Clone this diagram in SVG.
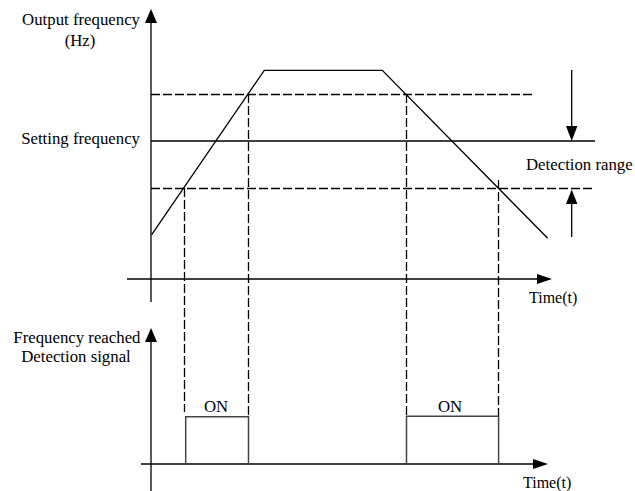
<svg xmlns="http://www.w3.org/2000/svg" width="635" height="491" viewBox="0 0 635 491">
<defs>
<style>
.ln{stroke:#000;stroke-width:1.3;fill:none}
.ds{stroke:#000;stroke-width:1.3;fill:none;stroke-dasharray:9 3}
.bx{stroke:#444;stroke-width:1.5;fill:none}
.ah{fill:#000}
text{font-family:"Liberation Serif","Times New Roman",serif;font-size:16.8px;fill:#000}
</style>
</defs>
<rect width="635" height="491" fill="#fff"/>
<g id="axes">
<line class="ln" x1="151" y1="20" x2="151" y2="302"/>
<polygon class="ah" points="151,9 145,23 157,23"/>
<line class="ln" x1="127" y1="279" x2="540" y2="279"/>
<polygon class="ah" points="552,279 537,274 537,284"/>
<line class="ln" x1="151" y1="338" x2="151" y2="491"/>
<polygon class="ah" points="151,328 145,342 157,342"/>
<line class="ln" x1="141" y1="464" x2="536" y2="464"/>
<polygon class="ah" points="548,464 533,459 533,469"/>
</g>
<g id="levels">
<line class="ds" x1="151" y1="94.5" x2="533" y2="94.5"/>
<line class="ln" x1="151" y1="141" x2="595" y2="141"/>
<line class="ds" x1="151" y1="188.5" x2="595" y2="188.5"/>
</g>
<g id="curve">
<polyline class="ln" points="151.7,234.7 264.3,70.3 382.3,70.3 547.7,238.3"/>
</g>
<g id="connectors">
<line class="ds" x1="184.5" y1="188" x2="184.5" y2="412"/>
<line class="ds" x1="248.5" y1="94" x2="248.5" y2="417"/>
<line class="ds" x1="406.5" y1="94" x2="406.5" y2="417"/>
<line class="ds" x1="498.5" y1="180" x2="498.5" y2="416"/>
</g>
<g id="detection-arrows">
<line class="ln" x1="571.7" y1="70" x2="571.7" y2="128"/>
<polygon class="ah" points="571.7,141 566,126 577.4,126"/>
<line class="ln" x1="571.7" y1="204" x2="571.7" y2="237"/>
<polygon class="ah" points="571.7,189.5 566,204 577.4,204"/>
</g>
<g id="on-pulses">
<polyline class="bx" points="185.7,464 185.7,416.7 248.5,416.7 248.5,464"/>
<polyline class="bx" points="406.5,464 406.5,416.3 498.6,416.3 498.6,464"/>
</g>
<g id="labels">
<text x="140" y="25" text-anchor="end">Output frequency</text>
<text x="80" y="46" text-anchor="middle">(Hz)</text>
<text x="140" y="144" text-anchor="end">Setting frequency</text>
<text x="526" y="170">Detection range</text>
<text x="529" y="303" style="font-size:16px">Time(t)</text>
<text x="140.5" y="343" text-anchor="end">Frequency reached</text>
<text x="76" y="362" text-anchor="middle">Detection signal</text>
<text x="216" y="412" text-anchor="middle">ON</text>
<text x="450" y="411.5" text-anchor="middle">ON</text>
<text x="523" y="488" style="font-size:16px">Time(t)</text>
</g>
</svg>
